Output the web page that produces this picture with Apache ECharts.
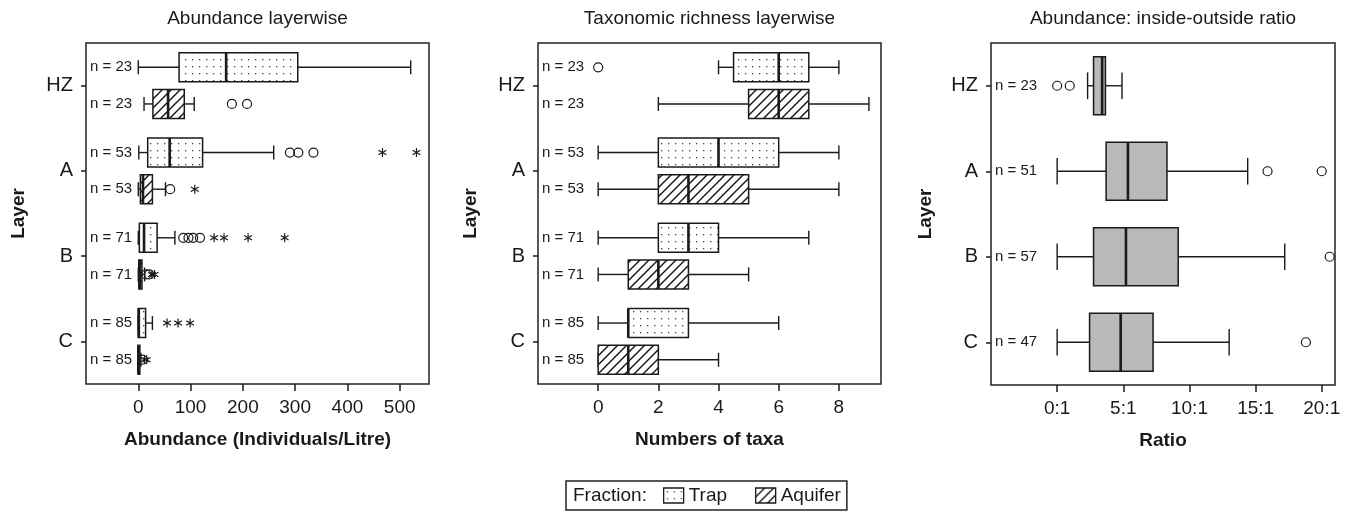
<!DOCTYPE html>
<html>
<head>
<meta charset="utf-8">
<script src="https://cdn.jsdelivr.net/npm/echarts@6/dist/echarts.min.js"></script>
<style>
  html, body { margin: 0; padding: 0; background: #fff; }
  #main { width: 1351px; height: 522px; }
</style>
</head>
<body>
<div id="main"></div>
<script>
// ---- data ----
var layers = ['HZ', 'A', 'B', 'C'];
var nLayer = [23, 53, 71, 85];
var nRatio = [23, 51, 57, 47];

var abundTicks = [0, 100, 200, 300, 400, 500];
var richTicks = [0, 2, 4, 6, 8];
var ratioTicks = [0, 5, 10, 15, 20];

// [min, q1, median, q3, max] per layer
var abundTrap    = [[0, 78, 168, 305, 521], [1, 18, 60, 123, 259], [0, 2, 11, 36, 70], [0, 0, 1, 14, 27]];
var abundAquifer = [[11, 28, 57, 88, 107], [0, 4, 9, 27, 52], [0, 1, 3, 7, 12], [0, 0, 0, 3, 5]];
var abundTrapCircles = [[1, 290], [1, 306], [1, 335], [2, 86], [2, 96], [2, 105], [2, 118]];
var abundTrapStars   = [[1, 467], [1, 532], [2, 145], [2, 164], [2, 210], [2, 280], [3, 55], [3, 76], [3, 99]];
var abundAquiferCircles = [[0, 179], [0, 208], [1, 61], [2, 15], [2, 21], [3, 8]];
var abundAquiferStars   = [[1, 108], [2, 26], [2, 31], [3, 12], [3, 16]];

var richTrap    = [[4, 4.5, 6, 7, 8], [0, 2, 4, 6, 8], [0, 2, 3, 4, 7], [0, 1, 1, 3, 6]];
var richAquifer = [[2, 5, 6, 7, 9], [0, 2, 3, 5, 8], [0, 1, 2, 3, 5], [0, 0, 1, 2, 4]];
var richTrapCircles = [[0, 0]];

var ratioStats   = [[2.3, 2.75, 3.4, 3.65, 4.9], [0, 3.7, 5.35, 8.3, 14.4], [0, 2.75, 5.2, 9.15, 17.2], [0, 2.45, 4.8, 7.25, 13.0]];
var ratioCircles = [[0, 0], [0, 0.95], [1, 15.9], [1, 20], [2, 20.6], [3, 18.8]];

// ---- look ----
var FONT = '"Liberation Sans", Arial, sans-serif';
var INK = '#1a1a1a';

function dotPattern() {
  var c = document.createElement('canvas');
  c.width = 7; c.height = 7;
  var g = c.getContext('2d');
  g.fillStyle = '#fff'; g.fillRect(0, 0, 7, 7);
  g.fillStyle = '#444'; g.fillRect(3, 3, 1.3, 1.3);
  return { image: c, repeat: 'repeat' };
}
function hatchPattern() {
  var s = 9;
  var c = document.createElement('canvas');
  c.width = s; c.height = s;
  var g = c.getContext('2d');
  g.fillStyle = '#fff'; g.fillRect(0, 0, s, s);
  g.strokeStyle = '#111'; g.lineWidth = 1.4;
  g.beginPath();
  g.moveTo(0, s); g.lineTo(s, 0);
  g.moveTo(-2, 2); g.lineTo(2, -2);
  g.moveTo(s - 2, s + 2); g.lineTo(s + 2, s - 2);
  g.stroke();
  return { image: c, repeat: 'repeat' };
}
var DOTS = dotPattern();
var HATCH = hatchPattern();
var GREY = '#b9b9b9';

function boxData(stats, ns) {
  return stats.map(function (s, i) { return [i].concat(s).concat([ns[i]]); });
}

function seg(x1, y1, x2, y2, w) {
  return { type: 'line', shape: { x1: x1, y1: y1, x2: x2, y2: y2 }, style: { stroke: INK, lineWidth: w || 1.4 } };
}

function boxRender(offset, half, cap, fill, medW) {
  return function (params, api) {
    var cat = api.value(0);
    var band = api.size([0, 1])[1];
    var yc = api.coord([0, cat])[1] + offset * band;
    var x = [1, 2, 3, 4, 5].map(function (d) { return api.coord([api.value(d), cat])[0]; });
    var h = half * band, c = cap * band;
    return {
      type: 'group',
      children: [
        seg(x[0], yc, x[1], yc), seg(x[3], yc, x[4], yc),
        seg(x[0], yc - c, x[0], yc + c), seg(x[4], yc - c, x[4], yc + c),
        { type: 'rect', shape: { x: x[1], y: yc - h, width: x[3] - x[1], height: 2 * h },
          style: { fill: fill, stroke: INK, lineWidth: 1.5 } },
        seg(x[2], yc - h, x[2], yc + h, medW),
        { type: 'text', style: { text: 'n = ' + api.value(6), x: params.coordSys.x + 4, y: yc,
          fill: INK, font: '15px ' + FONT, verticalAlign: 'middle', align: 'left' } }
      ]
    };
  };
}

function outlierRender(offset, star) {
  return function (params, api) {
    var cat = api.value(0);
    var band = api.size([0, 1])[1];
    var p = api.coord([api.value(1), cat]);
    var y = p[1] + offset * band;
    if (!star) {
      return { type: 'circle', shape: { cx: p[0], cy: y, r: 4.5 }, style: { fill: 'none', stroke: INK, lineWidth: 1.2 } };
    }
    var r = 4.5;
    return {
      type: 'group',
      children: [90, 30, 150].map(function (a) {
        var dx = r * Math.cos(a * Math.PI / 180), dy = r * Math.sin(a * Math.PI / 180);
        return seg(p[0] - dx, y - dy, p[0] + dx, y + dy, 1.2);
      })
    };
  };
}

function boxSeries(name, idx, data, offset, half, cap, fill) {
  return {
    type: 'custom', name: name, xAxisIndex: idx, yAxisIndex: idx, clip: true,
    renderItem: boxRender(offset, half, cap, fill, 2.6),
    encode: { x: [1, 2, 3, 4, 5], y: 0 }, data: data
  };
}
function outlierSeries(idx, data, offset, star) {
  return {
    type: 'custom', name: 'outliers', xAxisIndex: idx, yAxisIndex: idx, clip: true,
    renderItem: outlierRender(offset, star), encode: { x: 1, y: 0 }, data: data, z: 3
  };
}

var grids = [
  { left: 86, top: 43, width: 343, height: 341 },
  { left: 538, top: 43, width: 343, height: 341 },
  { left: 991, top: 43, width: 344, height: 342 }
];
var titles = ['Abundance layerwise', 'Taxonomic richness layerwise', 'Abundance: inside-outside ratio'];

function xAxis(idx, min, max, ticks, name, fmt) {
  return {
    type: 'value', gridIndex: idx, min: min, max: max,
    name: name, nameLocation: 'middle', nameGap: 46,
    nameTextStyle: { fontFamily: FONT, fontSize: 19, fontWeight: 'bold', color: INK },
    axisLine: { show: false, onZero: false }, splitLine: { show: false },
    axisTick: { show: true, length: 7, customValues: ticks, lineStyle: { color: INK, width: 1.5 } },
    axisLabel: { customValues: ticks, margin: 14, fontFamily: FONT, fontSize: 19, color: INK, formatter: fmt }
  };
}
function yAxis(idx, gap) {
  return {
    type: 'category', gridIndex: idx, data: layers, inverse: true,
    name: 'Layer', nameLocation: 'middle', nameGap: gap,
    nameTextStyle: { fontFamily: FONT, fontSize: 19, fontWeight: 'bold', color: INK },
    axisLine: { show: false, onZero: false },
    axisTick: { show: true, alignWithLabel: true, length: 5, lineStyle: { color: INK, width: 1.5 } },
    axisLabel: { margin: 13, fontFamily: FONT, fontSize: 20, color: INK }
  };
}

var OFF = 0.215, HALF = 0.17, CAP = 0.082;

var option = {
  backgroundColor: '#fff',
  animation: false,
  title: grids.map(function (g, i) {
    return { text: titles[i], left: g.left + g.width / 2, top: 9, textAlign: 'center', padding: 0,
      textStyle: { fontFamily: FONT, fontSize: 19, fontWeight: 'normal', color: INK } };
  }),
  grid: grids.map(function (g) {
    return Object.assign({ show: true, borderColor: '#222', borderWidth: 1.5, backgroundColor: 'transparent' }, g);
  }),
  xAxis: [
    xAxis(0, -100, 556, abundTicks, 'Abundance (Individuals/Litre)'),
    xAxis(1, -2, 9.4, richTicks, 'Numbers of taxa'),
    xAxis(2, -5, 21, ratioTicks, 'Ratio', function (v) { return v + ':1'; })
  ],
  yAxis: [yAxis(0, 58), yAxis(1, 58), yAxis(2, 56)],
  legend: {
    left: 566, top: 481, orient: 'horizontal', selectedMode: false,
    padding: [5, 6, 5, 97], borderColor: '#222', borderWidth: 1.5,
    itemWidth: 20, itemHeight: 15, itemGap: 28,
    textStyle: { fontFamily: FONT, fontSize: 19, color: INK },
    data: [
      { name: 'Trap', icon: 'rect', itemStyle: { color: DOTS, borderColor: INK, borderWidth: 1.3 } },
      { name: 'Aquifer', icon: 'rect', itemStyle: { color: HATCH, borderColor: INK, borderWidth: 1.3 } }
    ]
  },
  graphic: [{
    type: 'text', left: 573, top: 486,
    style: { text: 'Fraction:', font: '19px ' + FONT, fill: INK }
  }],
  series: [
    boxSeries('Trap', 0, boxData(abundTrap, nLayer), -OFF, HALF, CAP, DOTS),
    boxSeries('Aquifer', 0, boxData(abundAquifer, nLayer), OFF, HALF, CAP, HATCH),
    outlierSeries(0, abundTrapCircles, -OFF, false),
    outlierSeries(0, abundTrapStars, -OFF, true),
    outlierSeries(0, abundAquiferCircles, OFF, false),
    outlierSeries(0, abundAquiferStars, OFF, true),

    boxSeries('Trap', 1, boxData(richTrap, nLayer), -OFF, HALF, CAP, DOTS),
    boxSeries('Aquifer', 1, boxData(richAquifer, nLayer), OFF, HALF, CAP, HATCH),
    outlierSeries(1, richTrapCircles, -OFF, false),

    boxSeries('Ratio', 2, boxData(ratioStats, nRatio), 0, 0.34, 0.156, GREY),
    outlierSeries(2, ratioCircles, 0, false)
  ]
};

var chart = echarts.init(document.getElementById('main'));
chart.setOption(option);
</script>
</body>
</html>
